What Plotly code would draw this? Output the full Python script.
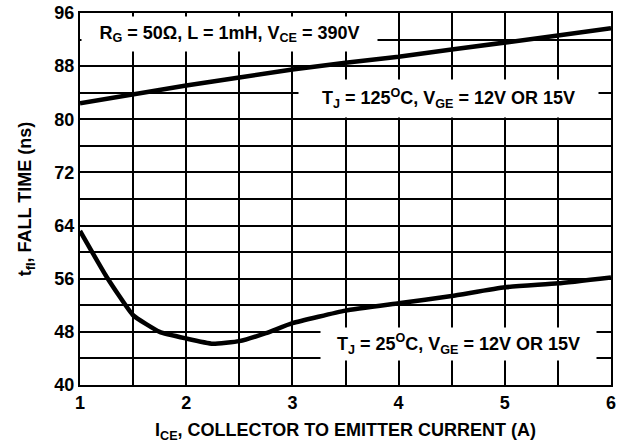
import plotly.graph_objects as go

# Data
ice = [1, 1.5, 2, 2.5, 3, 3.5, 4, 4.5, 5, 5.5, 6]
tfi_125 = [82.4, 83.8, 85.1, 86.3, 87.5, 88.5, 89.4, 90.5, 91.5, 92.6, 93.7]

ice_25 = [1, 1.25, 1.5, 1.75, 2, 2.25, 2.5, 2.75, 3, 3.5, 4, 4.5, 5, 5.5, 6]
tfi_25 = [63.2, 56.3, 50.5, 48.0, 47.0, 46.2, 46.6, 47.8, 49.3, 51.2, 52.3, 53.4, 54.7, 55.3, 56.2]

x_ticks = [1, 2, 3, 4, 5, 6]
y_ticks = [40, 48, 56, 64, 72, 80, 88, 96]

label_cond = "R<sub>G</sub> = 50Ω, L = 1mH, V<sub>CE</sub> = 390V"
label_125 = "T<sub>J</sub> = 125<sup>O</sup>C, V<sub>GE</sub> = 12V OR 15V"
label_25 = "T<sub>J</sub> = 25<sup>O</sup>C, V<sub>GE</sub> = 12V OR 15V"

FONT = "Liberation Sans, Arial, sans-serif"
FS = 18

fig = go.Figure()
fig.add_trace(go.Scatter(x=ice, y=tfi_125, mode="lines",
                         line=dict(color="black", width=4.5), showlegend=False))
fig.add_trace(go.Scatter(x=ice_25, y=tfi_25, mode="lines",
                         line=dict(color="black", width=4.5, shape="spline", smoothing=0.4),
                         showlegend=False))

ann_font = dict(family=FONT, size=FS, color="black", weight="bold")
fig.add_annotation(x=2.41, y=92.8, xanchor="center", yanchor="middle",
                   text=label_cond, width=291, height=30, align="center",
                   showarrow=False, bgcolor="white", borderpad=2, font=ann_font)
fig.add_annotation(x=4.47, y=83.2, xanchor="center", yanchor="middle",
                   text=label_125, width=295, height=33, align="center",
                   showarrow=False, bgcolor="white", borderpad=2, font=ann_font)
fig.add_annotation(x=4.56, y=46.15, xanchor="center", yanchor="middle",
                   text=label_25, width=271, height=28, align="center",
                   showarrow=False, bgcolor="white", borderpad=2, font=ann_font)

axis_common = dict(showline=True, linecolor="black", linewidth=2, mirror=True,
                   gridcolor="black", gridwidth=2, zeroline=False, ticks="",
                   automargin=False,
                   tickfont=dict(family=FONT, size=FS, color="black", weight="bold"))

fig.update_xaxes(range=[1, 6], tickvals=x_ticks, ticktext=[str(v) for v in x_ticks],
                 minor=dict(dtick=0.5, tick0=1, showgrid=True, gridcolor="black", gridwidth=2),
                 title=dict(text="I<sub>CE</sub>, COLLECTOR TO EMITTER CURRENT (A)",
                            font=dict(family=FONT, size=FS, color="black", weight="bold"),
                            standoff=12),
                 **axis_common)
fig.update_yaxes(range=[40, 96], tickvals=y_ticks, ticktext=[str(v) for v in y_ticks],
                 minor=dict(dtick=4, tick0=40, showgrid=True, gridcolor="black", gridwidth=2),
                 title=dict(text="t<sub>fI</sub>, FALL TIME (ns)",
                            font=dict(family=FONT, size=FS, color="black", weight="bold"),
                            standoff=18),
                 **axis_common)

fig.update_layout(width=624, height=444, margin=dict(l=80, r=13, t=13, b=59, autoexpand=False),
                  paper_bgcolor="white", plot_bgcolor="white", showlegend=False)

fig.write_html("out.html", config={"displayModeBar": False},
               post_script="document.body.style.margin='0px';document.body.style.padding='0px';")
